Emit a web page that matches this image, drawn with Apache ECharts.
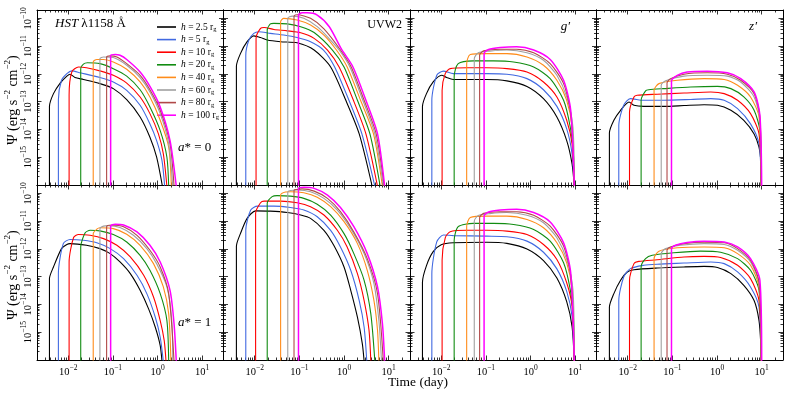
<!DOCTYPE html>
<html>
<head>
<meta charset="utf-8">
<script src="https://cdn.jsdelivr.net/npm/echarts@6/dist/echarts.min.js"></script>
<style>
html, body { margin: 0; padding: 0; background: #fff; }
#chart { width: 789px; height: 393px; }
</style>
</head>
<body>
<div id="chart"></div>
<script>
// values are log10(time / day) and log10(Psi / erg s^-2 cm^-2)
const hValues = ['2.5', '5', '10', '20', '40', '60', '80', '100']
const COLORS = ['#000000', '#4169e1', '#ff0000', '#118c11', '#ff8c1a', '#a0a0a0', '#b04848', '#ff00ff']
const xMajor = [-2, -1, 0, 1]
const yMajor = [-16, -15, -14, -13, -12, -11, -10]
const yLabelValues = [-15, -14, -13, -12, -11, -10]

const hst_a0 = [
  [[-2.42,-16.3],[-2.42,-13.17],[-2.33,-12.71],[-2.18,-12.33],[-2.03,-12.08],[-1.96,-12.01],[-1.85,-12.13],[-1.66,-12.2],[-1.29,-12.35],[-0.99,-12.53],[-0.69,-12.93],[-0.39,-13.55],[-0.17,-14.28],[-0.02,-15.0],[0.11,-16.05]],
  [[-2.22,-16.3],[-2.22,-12.93],[-2.15,-12.23],[-2.03,-11.99],[-1.92,-11.89],[-1.73,-11.96],[-1.29,-12.13],[-0.99,-12.29],[-0.69,-12.59],[-0.39,-13.13],[-0.17,-13.8],[-0.02,-14.4],[0.1,-15.12],[0.16,-16.05]],
  [[-1.98,-16.3],[-1.98,-12.77],[-1.92,-11.93],[-1.77,-11.75],[-1.59,-11.78],[-1.29,-11.89],[-0.99,-12.05],[-0.69,-12.33],[-0.39,-12.83],[-0.17,-13.43],[0.02,-14.16],[0.13,-14.88],[0.21,-16.05]],
  [[-1.72,-16.3],[-1.72,-11.81],[-1.66,-11.65],[-1.57,-11.6],[-1.29,-11.63],[-0.99,-11.81],[-0.69,-12.08],[-0.39,-12.57],[-0.17,-13.19],[0.06,-14.04],[0.21,-15.0],[0.25,-16.05]],
  [[-1.44,-16.3],[-1.44,-11.57],[-1.36,-11.48],[-1.21,-11.48],[-0.99,-11.57],[-0.69,-11.83],[-0.39,-12.29],[-0.17,-12.83],[0.06,-13.67],[0.25,-14.64],[0.31,-16.05]],
  [[-1.29,-16.3],[-1.29,-11.45],[-1.21,-11.39],[-0.99,-11.41],[-0.69,-11.69],[-0.39,-12.13],[-0.17,-12.65],[0.06,-13.43],[0.25,-14.52],[0.34,-16.05]],
  [[-1.14,-16.3],[-1.14,-11.39],[-1.06,-11.35],[-0.91,-11.39],[-0.69,-11.63],[-0.39,-12.05],[-0.17,-12.57],[0.06,-13.31],[0.28,-14.52],[0.37,-16.05]],
  [[-1.05,-16.3],[-1.05,-11.33],[-0.95,-11.3],[-0.84,-11.33],[-0.69,-11.48],[-0.39,-11.93],[-0.17,-12.45],[0.06,-13.19],[0.28,-14.4],[0.42,-16.05]]
]

const uvw2_a0 = [
  [[-2.41,-16.3],[-2.41,-11.72],[-2.32,-11.27],[-2.17,-10.84],[-2.02,-10.63],[-1.87,-10.69],[-1.72,-10.78],[-1.42,-10.84],[-1.05,-10.88],[-0.67,-11.14],[-0.3,-11.75],[0.04,-12.95],[0.34,-14.16],[0.63,-16.05]],
  [[-2.2,-16.3],[-2.2,-11.33],[-2.13,-10.78],[-2.02,-10.54],[-1.91,-10.48],[-1.65,-10.54],[-1.35,-10.6],[-1.05,-10.69],[-0.75,-10.84],[-0.46,-11.14],[-0.21,-11.75],[0.11,-12.95],[0.4,-14.16],[0.69,-16.05]],
  [[-1.97,-16.3],[-1.97,-10.72],[-1.87,-10.36],[-1.79,-10.33],[-1.57,-10.4],[-1.27,-10.45],[-0.97,-10.52],[-0.67,-10.72],[-0.37,-11.14],[-0.11,-11.75],[0.21,-12.95],[0.49,-14.16],[0.75,-16.05]],
  [[-1.72,-16.3],[-1.72,-10.42],[-1.65,-10.2],[-1.57,-10.18],[-1.27,-10.2],[-0.97,-10.3],[-0.67,-10.51],[-0.26,-11.14],[0.0,-11.75],[0.3,-12.95],[0.58,-14.16],[0.81,-16.05]],
  [[-1.42,-16.3],[-1.42,-10.12],[-1.35,-10.0],[-1.05,-10.06],[-0.75,-10.24],[-0.45,-10.6],[-0.17,-11.14],[0.07,-11.75],[0.37,-12.95],[0.66,-14.16],[0.86,-16.05]],
  [[-1.26,-16.3],[-1.26,-10.0],[-1.16,-9.92],[-0.9,-10.0],[-0.6,-10.3],[-0.35,-10.7],[-0.11,-11.14],[0.13,-11.75],[0.42,-12.95],[0.69,-14.16],[0.88,-16.05]],
  [[-1.12,-16.3],[-1.12,-9.92],[-1.05,-9.87],[-0.75,-10.0],[-0.45,-10.38],[-0.08,-11.14],[0.16,-11.75],[0.45,-12.95],[0.72,-14.16],[0.9,-16.05]],
  [[-1.02,-16.3],[-1.02,-9.88],[-0.94,-9.8],[-0.82,-9.8],[-0.6,-9.88],[-0.33,-10.3],[-0.06,-11.1],[0.2,-11.75],[0.49,-12.95],[0.75,-14.16],[0.91,-16.05]]
]

const gp_a0 = [
  [[-2.42,-16.3],[-2.42,-13.17],[-2.33,-12.71],[-2.18,-12.29],[-1.99,-12.05],[-1.88,-12.13],[-1.73,-12.2],[-0.98,-12.2],[-0.53,-12.25],[-0.08,-12.45],[0.29,-12.89],[0.59,-13.55],[0.81,-14.4],[0.93,-15.24],[0.98,-16.05]],
  [[-2.21,-16.3],[-2.21,-12.95],[-2.1,-12.05],[-1.95,-11.9],[-1.73,-11.99],[-0.98,-11.99],[-0.53,-12.01],[-0.08,-12.17],[0.29,-12.57],[0.59,-13.17],[0.81,-13.98],[0.93,-14.88],[0.98,-16.05]],
  [[-1.98,-16.3],[-1.98,-12.59],[-1.91,-11.99],[-1.8,-11.81],[-1.43,-11.78],[-0.98,-11.78],[-0.53,-11.81],[-0.08,-11.93],[0.29,-12.29],[0.59,-12.83],[0.81,-13.67],[0.93,-14.52],[0.98,-16.05]],
  [[-1.71,-16.3],[-1.71,-12.11],[-1.62,-11.63],[-1.28,-11.53],[-0.83,-11.53],[-0.38,-11.57],[0.07,-11.75],[0.44,-12.17],[0.74,-12.95],[0.89,-13.92],[0.96,-14.88],[0.98,-16.05]],
  [[-1.43,-16.3],[-1.43,-11.63],[-1.35,-11.3],[-0.98,-11.27],[-0.53,-11.27],[-0.08,-11.39],[0.29,-11.69],[0.59,-12.23],[0.81,-12.95],[0.93,-13.92],[0.98,-16.05]],
  [[-1.26,-16.3],[-1.26,-11.45],[-1.17,-11.24],[-0.91,-11.18],[-0.53,-11.14],[-0.08,-11.24],[0.29,-11.51],[0.59,-12.05],[0.81,-12.83],[0.95,-13.92],[0.98,-16.05]],
  [[-1.14,-16.3],[-1.14,-11.33],[-1.05,-11.17],[-0.68,-11.11],[-0.31,-11.11],[0.07,-11.24],[0.44,-11.63],[0.74,-12.35],[0.9,-13.43],[0.98,-16.05]],
  [[-1.04,-16.3],[-1.04,-11.27],[-0.94,-11.12],[-0.68,-11.05],[-0.31,-11.02],[0.07,-11.14],[0.44,-11.48],[0.74,-12.23],[0.9,-13.31],[0.98,-16.05]]
]

const zp_a0 = [
  [[-2.41,-16.3],[-2.41,-14.13],[-2.31,-13.67],[-2.16,-13.31],[-1.97,-13.01],[-1.86,-13.13],[-1.64,-13.17],[-1.19,-13.17],[-0.74,-13.14],[-0.29,-13.11],[0.01,-13.13],[0.31,-13.31],[0.6,-13.67],[0.83,-14.16],[0.94,-14.64],[0.98,-15.12],[0.99,-16.05]],
  [[-2.2,-16.3],[-2.2,-13.86],[-2.09,-13.13],[-1.94,-12.89],[-1.64,-12.95],[-1.19,-12.95],[-0.59,-12.92],[-0.14,-12.89],[0.16,-12.95],[0.46,-13.25],[0.75,-13.8],[0.94,-14.52],[0.99,-16.05]],
  [[-1.96,-16.3],[-1.96,-13.37],[-1.86,-12.83],[-1.79,-12.77],[-1.34,-12.73],[-0.74,-12.69],[-0.14,-12.65],[0.16,-12.71],[0.46,-12.95],[0.75,-13.43],[0.94,-14.16],[0.99,-16.05]],
  [[-1.7,-16.3],[-1.7,-12.95],[-1.6,-12.61],[-1.53,-12.57],[-1.19,-12.53],[-0.59,-12.47],[0.01,-12.45],[0.31,-12.53],[0.6,-12.83],[0.83,-13.31],[0.96,-14.04],[0.99,-16.05]],
  [[-1.41,-16.3],[-1.41,-12.59],[-1.3,-12.35],[-0.89,-12.23],[-0.29,-12.17],[0.16,-12.2],[0.46,-12.41],[0.75,-12.83],[0.94,-13.55],[0.99,-16.05]],
  [[-1.25,-16.3],[-1.25,-12.41],[-1.15,-12.25],[-0.74,-12.08],[-0.22,-12.05],[0.23,-12.08],[0.53,-12.29],[0.83,-12.83],[0.96,-13.67],[0.99,-16.05]],
  [[-1.12,-16.3],[-1.12,-12.33],[-1.04,-12.17],[-0.74,-12.01],[-0.22,-11.96],[0.23,-12.01],[0.53,-12.23],[0.83,-12.71],[0.96,-13.55],[0.99,-16.05]],
  [[-1.02,-16.3],[-1.02,-12.25],[-0.89,-12.05],[-0.67,-11.93],[-0.22,-11.9],[0.23,-11.96],[0.53,-12.17],[0.83,-12.65],[0.96,-13.49],[1.0,-16.05]]
]

const hst_a1 = [
  [[-2.42,-16.3],[-2.42,-13.07],[-2.33,-12.65],[-2.15,-11.99],[-2.03,-11.84],[-1.96,-11.81],[-1.59,-11.87],[-1.29,-11.99],[-1.06,-12.17],[-0.84,-12.47],[-0.61,-12.89],[-0.39,-13.49],[-0.2,-14.16],[-0.05,-14.82],[0.06,-15.48],[0.1,-16.05]],
  [[-2.22,-16.3],[-2.22,-12.89],[-2.11,-11.81],[-1.96,-11.66],[-1.66,-11.69],[-1.36,-11.78],[-1.06,-11.99],[-0.76,-12.35],[-0.46,-12.95],[-0.24,-13.61],[-0.05,-14.46],[0.06,-15.18],[0.13,-16.05]],
  [[-1.98,-16.3],[-1.98,-12.47],[-1.88,-11.59],[-1.77,-11.48],[-1.51,-11.51],[-1.21,-11.63],[-0.91,-11.87],[-0.61,-12.29],[-0.31,-12.95],[-0.09,-13.73],[0.06,-14.58],[0.15,-15.3],[0.19,-16.05]],
  [[-1.72,-16.3],[-1.72,-11.93],[-1.62,-11.42],[-1.51,-11.33],[-1.29,-11.35],[-0.99,-11.48],[-0.69,-11.75],[-0.39,-12.23],[-0.17,-12.77],[0.06,-13.61],[0.21,-14.58],[0.25,-16.05]],
  [[-1.44,-16.3],[-1.44,-11.45],[-1.36,-11.29],[-1.29,-11.24],[-0.99,-11.27],[-0.69,-11.47],[-0.39,-11.87],[-0.09,-12.53],[0.13,-13.37],[0.25,-14.34],[0.3,-16.05]],
  [[-1.29,-16.3],[-1.29,-11.27],[-1.21,-11.18],[-1.1,-11.16],[-0.84,-11.23],[-0.54,-11.51],[-0.24,-11.99],[-0.02,-12.53],[0.21,-13.37],[0.32,-14.58],[0.34,-16.05]],
  [[-1.14,-16.3],[-1.14,-11.2],[-1.02,-11.14],[-0.76,-11.2],[-0.46,-11.51],[-0.17,-12.05],[0.06,-12.65],[0.25,-13.61],[0.37,-16.05]],
  [[-1.05,-16.3],[-1.05,-11.18],[-0.95,-11.11],[-0.76,-11.14],[-0.46,-11.39],[-0.17,-11.87],[0.06,-12.47],[0.28,-13.49],[0.37,-14.7],[0.42,-16.05]]
]

const uvw2_a1 = [
  [[-2.41,-16.3],[-2.41,-11.9],[-2.32,-11.45],[-2.17,-10.9],[-1.98,-10.63],[-1.65,-10.64],[-1.27,-10.69],[-0.97,-10.78],[-0.75,-10.9],[-0.45,-11.33],[-0.23,-11.87],[0.0,-12.65],[0.15,-13.49],[0.3,-14.46],[0.41,-15.42],[0.45,-16.05]],
  [[-2.2,-16.3],[-2.2,-11.33],[-2.09,-10.6],[-1.94,-10.46],[-1.57,-10.46],[-1.2,-10.51],[-0.9,-10.6],[-0.6,-10.84],[-0.3,-11.33],[-0.08,-11.93],[0.15,-12.77],[0.34,-13.86],[0.45,-14.82],[0.51,-16.05]],
  [[-1.98,-16.3],[-1.98,-10.72],[-1.87,-10.34],[-1.79,-10.28],[-1.42,-10.28],[-1.05,-10.34],[-0.75,-10.48],[-0.45,-10.78],[-0.15,-11.33],[0.07,-11.93],[0.3,-12.89],[0.45,-13.86],[0.56,-14.94],[0.6,-16.05]],
  [[-1.72,-16.3],[-1.72,-10.36],[-1.61,-10.12],[-1.5,-10.08],[-1.2,-10.1],[-0.9,-10.18],[-0.6,-10.39],[-0.3,-10.78],[0.0,-11.45],[0.22,-12.17],[0.45,-13.13],[0.6,-14.34],[0.69,-16.05]],
  [[-1.42,-16.3],[-1.42,-10.06],[-1.31,-9.95],[-1.2,-9.94],[-0.9,-9.98],[-0.6,-10.14],[-0.3,-10.48],[0.0,-11.02],[0.3,-11.81],[0.52,-12.77],[0.67,-13.86],[0.75,-14.94],[0.78,-16.05]],
  [[-1.26,-16.3],[-1.26,-9.95],[-1.2,-9.9],[-1.05,-9.88],[-0.75,-9.94],[-0.45,-10.18],[-0.15,-10.6],[0.15,-11.27],[0.45,-12.17],[0.67,-13.25],[0.78,-14.58],[0.84,-16.05]],
  [[-1.12,-16.3],[-1.12,-9.88],[-1.05,-9.86],[-0.94,-9.84],[-0.67,-9.92],[-0.37,-10.18],[-0.08,-10.66],[0.22,-11.39],[0.52,-12.35],[0.75,-13.61],[0.88,-16.05]],
  [[-1.02,-16.3],[-1.02,-9.82],[-0.9,-9.78],[-0.67,-9.82],[-0.37,-10.06],[-0.08,-10.51],[0.22,-11.2],[0.52,-12.17],[0.75,-13.37],[0.86,-14.7],[0.91,-16.05]]
]

const gp_a1 = [
  [[-2.42,-16.3],[-2.42,-13.2],[-2.33,-12.6],[-2.18,-12.1],[-2.0,-11.85],[-1.73,-11.78],[-0.98,-11.76],[-0.53,-11.8],[-0.08,-12.0],[0.29,-12.42],[0.59,-13.05],[0.81,-13.9],[0.93,-14.8],[0.98,-16.05]],
  [[-2.21,-16.3],[-2.21,-12.9],[-2.1,-11.75],[-1.95,-11.5],[-1.73,-11.52],[-0.98,-11.54],[-0.53,-11.56],[-0.08,-11.72],[0.29,-12.12],[0.59,-12.72],[0.81,-13.53],[0.93,-14.43],[0.98,-16.05]],
  [[-1.98,-16.3],[-1.98,-12.4],[-1.91,-11.6],[-1.8,-11.38],[-1.43,-11.33],[-0.98,-11.33],[-0.53,-11.36],[-0.08,-11.48],[0.29,-11.84],[0.59,-12.38],[0.81,-13.22],[0.93,-14.07],[0.98,-16.05]],
  [[-1.71,-16.3],[-1.71,-11.7],[-1.62,-11.2],[-1.28,-11.08],[-0.83,-11.08],[-0.38,-11.12],[0.07,-11.3],[0.44,-11.72],[0.74,-12.5],[0.89,-13.47],[0.96,-14.43],[0.98,-16.05]],
  [[-1.43,-16.3],[-1.43,-11.2],[-1.35,-10.87],[-0.98,-10.82],[-0.53,-10.82],[-0.08,-10.94],[0.29,-11.24],[0.59,-11.78],[0.81,-12.5],[0.93,-13.47],[0.98,-16.05]],
  [[-1.26,-16.3],[-1.26,-11.0],[-1.17,-10.8],[-0.91,-10.73],[-0.53,-10.69],[-0.08,-10.79],[0.29,-11.06],[0.59,-11.6],[0.81,-12.38],[0.95,-13.47],[0.98,-16.05]],
  [[-1.14,-16.3],[-1.14,-10.88],[-1.05,-10.72],[-0.68,-10.66],[-0.31,-10.66],[0.07,-10.79],[0.44,-11.18],[0.74,-11.9],[0.9,-12.98],[0.98,-16.05]],
  [[-1.04,-16.3],[-1.04,-10.82],[-0.94,-10.67],[-0.68,-10.6],[-0.31,-10.57],[0.07,-10.69],[0.44,-11.03],[0.74,-11.78],[0.9,-12.86],[0.98,-16.05]]
]

const zp_a1 = [
  [[-2.41,-16.3],[-2.41,-14.1],[-2.31,-13.61],[-2.16,-13.13],[-2.01,-12.83],[-1.86,-12.75],[-1.34,-12.69],[-0.74,-12.65],[-0.29,-12.63],[0.01,-12.67],[0.31,-12.89],[0.6,-13.31],[0.83,-13.86],[0.94,-14.58],[0.98,-15.42],[0.99,-16.05]],
  [[-2.2,-16.3],[-2.2,-13.86],[-2.09,-13.01],[-1.94,-12.71],[-1.64,-12.59],[-1.34,-12.55],[-0.74,-12.51],[-0.14,-12.47],[0.16,-12.53],[0.46,-12.83],[0.75,-13.37],[0.94,-14.1],[0.99,-16.05]],
  [[-1.96,-16.3],[-1.96,-13.13],[-1.86,-12.53],[-1.75,-12.45],[-1.34,-12.39],[-0.74,-12.29],[-0.29,-12.27],[0.08,-12.31],[0.46,-12.59],[0.75,-13.07],[0.94,-13.86],[0.99,-16.05]],
  [[-1.7,-16.3],[-1.7,-12.65],[-1.6,-12.35],[-1.45,-12.23],[-0.97,-12.14],[-0.37,-12.08],[0.08,-12.12],[0.46,-12.35],[0.75,-12.77],[0.94,-13.49],[0.99,-16.05]],
  [[-1.41,-16.3],[-1.41,-12.35],[-1.3,-12.08],[-0.89,-11.96],[-0.29,-11.93],[0.16,-11.96],[0.46,-12.17],[0.75,-12.59],[0.94,-13.37],[0.99,-16.05]],
  [[-1.25,-16.3],[-1.25,-12.17],[-1.15,-11.99],[-0.82,-11.87],[-0.29,-11.81],[0.16,-11.84],[0.46,-12.05],[0.75,-12.47],[0.94,-13.25],[0.99,-16.05]],
  [[-1.12,-16.3],[-1.12,-12.05],[-1.04,-11.93],[-0.74,-11.81],[-0.29,-11.76],[0.16,-11.78],[0.46,-11.99],[0.75,-12.41],[0.94,-13.19],[0.99,-16.05]],
  [[-1.02,-16.3],[-1.02,-11.99],[-0.93,-11.87],[-0.67,-11.77],[-0.29,-11.72],[0.16,-11.75],[0.46,-11.93],[0.75,-12.35],[0.96,-13.13],[1.0,-16.05]]
]

const panels = [hst_a0, uvw2_a0, gp_a0, zp_a0, hst_a1, uvw2_a1, gp_a1, zp_a1]

const X_MIN = Math.log10(0.002)
const X_MAX = Math.log10(30)
const Y_MIN = -16
const Y_MAX = Math.log10(2e-10)
const FONT = 'Liberation Serif'

// minor ticks at 2..9 x 10^n
const minorTicks = (lo, hi) => {
  const out = []
  for (let n = Math.floor(lo); n <= Math.ceil(hi); n++) {
    for (let k = 2; k <= 9; k++) {
      const v = n + Math.log10(k)
      if (v > lo && v < hi) out.push(v)
    }
  }
  return out
}
const xMinor = minorTicks(X_MIN, X_MAX)
const yMinor = minorTicks(Y_MIN, Y_MAX)

const labelRich = {
  b: { fontFamily: FONT, fontSize: 10.5, lineHeight: 14, verticalAlign: 'bottom', color: '#000' },
  s: { fontFamily: FONT, fontSize: 7.5, lineHeight: 14, verticalAlign: 'top', color: '#000' }
}
const fmtPow = v => {
  const e = Math.round(v)
  return '{b|10}{s|' + (e < 0 ? '\u2212' + (-e) : e) + '}'
}

const lineCol = { color: '#000', width: 1 }
const tickCol = { color: '#000', width: 0.8 }

const grids = []
const xAxes = []
const yAxes = []
const series = []

panels.forEach((curves, p) => {
  const row = Math.floor(p / 4)
  const col = p % 4
  grids.push({ left: 37 + col * 186.5, top: 10 + row * 175, width: 186.5, height: 175 })

  const xb = { gridIndex: p, type: 'value', min: X_MIN, max: X_MAX, splitLine: { show: false } }
  ;['bottom', 'top'].forEach(pos => {
    xAxes.push({
      ...xb, position: pos,
      axisLine: { show: true, onZero: false, lineStyle: lineCol },
      axisTick: { inside: true, length: 4.5, customValues: xMajor, lineStyle: tickCol },
      axisLabel: { show: pos === 'bottom' && row === 1, customValues: xMajor, formatter: fmtPow, rich: labelRich, margin: 4 }
    })
    xAxes.push({
      ...xb, position: pos,
      axisLine: { show: false, onZero: false },
      axisTick: { inside: true, length: 2.5, customValues: xMinor, lineStyle: tickCol },
      axisLabel: { show: false }
    })
  })

  const yb = { gridIndex: p, type: 'value', min: Y_MIN, max: Y_MAX, splitLine: { show: false } }
  ;['left', 'right'].forEach(pos => {
    yAxes.push({
      ...yb, position: pos,
      axisLine: { show: true, onZero: false, lineStyle: lineCol },
      axisTick: { inside: true, length: 4.5, customValues: yMajor, lineStyle: tickCol },
      axisLabel: { show: pos === 'left' && col === 0, customValues: yLabelValues, formatter: fmtPow, rich: labelRich, rotate: 90, margin: 3 }
    })
    yAxes.push({
      ...yb, position: pos,
      axisLine: { show: false, onZero: false },
      axisTick: { inside: true, length: 2.5, customValues: yMinor, lineStyle: tickCol },
      axisLabel: { show: false }
    })
  })

  curves.forEach((pts, k) => {
    series.push({
      type: 'line',
      name: 'h=' + hValues[k],
      xAxisIndex: p * 4,
      yAxisIndex: p * 4,
      data: pts,
      symbol: 'none',
      showSymbol: false,
      smooth: 0.25,
      clip: true,
      silent: true,
      z: 2 + k,
      lineStyle: { color: COLORS[k], width: k === 7 ? 1.5 : 1.1 },
      itemStyle: { color: COLORS[k] }
    })
  })
})

const chart = echarts.init(document.getElementById('chart'))

const starRich = {
  it: { fontFamily: FONT, fontSize: 13, fontStyle: 'italic' },
  n: { fontFamily: FONT, fontSize: 13 }
}
const psiRich = { s: { fontFamily: FONT, fontSize: 9, verticalAlign: 'top', lineHeight: 19 } }

chart.setOption({
  animation: false,
  backgroundColor: '#fff',
  grid: grids,
  xAxis: xAxes,
  yAxis: yAxes,
  series,
  legend: {
    orient: 'vertical',
    left: 152,
    top: 16,
    icon: 'rect',
    itemWidth: 19,
    itemHeight: 1.6,
    itemGap: 0.6,
    selectedMode: false,
    data: hValues.map(h => 'h=' + h),
    formatter: name => '{i|h} = ' + name.slice(2) + ' r{g|g}',
    textStyle: {
      fontFamily: FONT, fontSize: 9.5, color: '#000', lineHeight: 12,
      rich: {
        i: { fontFamily: FONT, fontSize: 9.5, fontStyle: 'italic', lineHeight: 12, color: '#000' },
        g: { fontFamily: FONT, fontSize: 6.5, lineHeight: 12, verticalAlign: 'bottom', color: '#000' }
      }
    }
  },
  graphic: [
    { type: 'text', x: 55, y: 17, style: { text: '{it|HST} \u03bb1158 \u00c5', fontFamily: FONT, fontSize: 13, fill: '#000',
      rich: { it: { fontFamily: FONT, fontSize: 13, fontStyle: 'italic' } } } },
    { type: 'text', x: 402, y: 19, style: { text: 'UVW2', fontFamily: FONT, fontSize: 12, fill: '#000', align: 'right' } },
    { type: 'text', x: 570, y: 20, style: { text: 'g\u2032', fontFamily: FONT, fontSize: 13, fontStyle: 'italic', fill: '#000', align: 'right' } },
    { type: 'text', x: 757, y: 20, style: { text: 'z\u2032', fontFamily: FONT, fontSize: 13, fontStyle: 'italic', fill: '#000', align: 'right' } },
    { type: 'text', x: 178, y: 141, style: { text: '{it|a}{n|* = 0}', fontFamily: FONT, fontSize: 13, fill: '#000', rich: starRich } },
    { type: 'text', x: 178, y: 316, style: { text: '{it|a}{n|* = 1}', fontFamily: FONT, fontSize: 13, fill: '#000', rich: starRich } },
    { type: 'text', x: 418, y: 382, style: { text: 'Time (day)', fontFamily: FONT, fontSize: 13.5, fill: '#000', align: 'center', verticalAlign: 'middle' } },
    { type: 'text', x: 13, y: 100, rotation: Math.PI / 2, style: { text: '\u03a8 (erg s{s|\u22122} cm{s|\u22122})', fontFamily: FONT, fontSize: 14, fill: '#000', align: 'center', verticalAlign: 'middle', rich: psiRich } },
    { type: 'text', x: 13, y: 275, rotation: Math.PI / 2, style: { text: '\u03a8 (erg s{s|\u22122} cm{s|\u22122})', fontFamily: FONT, fontSize: 14, fill: '#000', align: 'center', verticalAlign: 'middle', rich: psiRich } }
  ]
})

window.addEventListener('resize', () => chart.resize())
</script>
</body>
</html>
